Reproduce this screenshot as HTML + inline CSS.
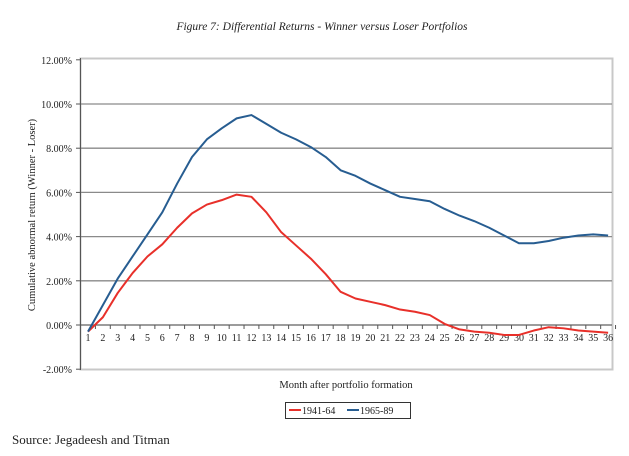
<!DOCTYPE html><html><head><style>body{margin:0;background:#fff}svg{display:block}text{font-family:"Liberation Serif",serif;fill:#222}</style></head><body>
<svg id="s" width="629" height="456" xmlns="http://www.w3.org/2000/svg">
<text x="322" y="30" text-anchor="middle" font-size="11.5" font-style="italic">Figure 7: Differential Returns - Winner versus Loser Portfolios</text>
<rect x="80.5" y="58.5" width="532" height="311" fill="none" stroke="#c8c8c8" stroke-width="2"/>
<g id="g"></g>
<text transform="translate(35,215) rotate(-90)" text-anchor="middle" font-size="10.5">Cumulative abnormal return (Winner - Loser)</text>
<text x="346" y="388" text-anchor="middle" font-size="10.5">Month after portfolio formation</text>
<rect x="285.5" y="402.5" width="125" height="16" fill="#fff" stroke="#333"/>
<line x1="289" y1="410" x2="301" y2="410" stroke="#e8302a" stroke-width="2"/>
<text x="302" y="414" font-size="10">1941-64</text>
<line x1="347" y1="410" x2="359" y2="410" stroke="#275d91" stroke-width="2"/>
<text x="360" y="414" font-size="10">1965-89</text>
<text x="12" y="444" font-size="13">Source: Jegadeesh and Titman</text>
</svg>
<script>
var g=document.getElementById('g'),h='';
function Y(v){return 325-v*22.1}
function X(i){return 88+(i-1)*14.86}
for(var v=-2;v<=12;v+=2){var y=Y(v);if(v>-2&&v<12)h+='<line x1="80" x2="612" y1="'+y+'" y2="'+y+'" stroke="#8a8a8a" stroke-width="1.3"/>';
h+='<line x1="76" x2="80" y1="'+y+'" y2="'+y+'" stroke="#555"/>';
h+='<text x="72" y="'+(y+4)+'" text-anchor="end" font-size="10">'+v.toFixed(2)+'%</text>';}
h+='<line x1="80.5" x2="80.5" y1="58" y2="370" stroke="#555"/>';
h+='<line x1="80" x2="612" y1="325" y2="325" stroke="#555"/>';
for(var i=1;i<=36;i++){var x=X(i);h+='<text x="'+x+'" y="341" text-anchor="middle" font-size="10">'+i+'</text>';
var t=x+7.43;h+='<line x1="'+t+'" x2="'+t+'" y1="325" y2="329" stroke="#555"/>';}
var b=[-0.3,0.9,2.1,3.1,4.1,5.1,6.4,7.6,8.4,8.9,9.35,9.5,9.1,8.7,8.4,8.05,7.6,7.0,6.75,6.4,6.1,5.8,5.7,5.6,5.25,4.95,4.7,4.4,4.05,3.7,3.7,3.8,3.95,4.05,4.1,4.05];
var r=[-0.3,0.35,1.45,2.35,3.1,3.65,4.4,5.05,5.45,5.65,5.9,5.8,5.1,4.2,3.6,3.0,2.3,1.5,1.2,1.05,0.9,0.7,0.6,0.45,0.05,-0.2,-0.3,-0.35,-0.45,-0.45,-0.25,-0.1,-0.15,-0.25,-0.3,-0.35];
function P(a,c){return '<polyline fill="none" stroke="'+c+'" stroke-width="2" stroke-linejoin="round" points="'+a.map(function(v,i){return X(i+1)+','+Y(v)}).join(' ')+'"/>'}
h+=P(r,'#e8302a')+P(b,'#275d91');
g.innerHTML=h;
</script>
</body></html>
